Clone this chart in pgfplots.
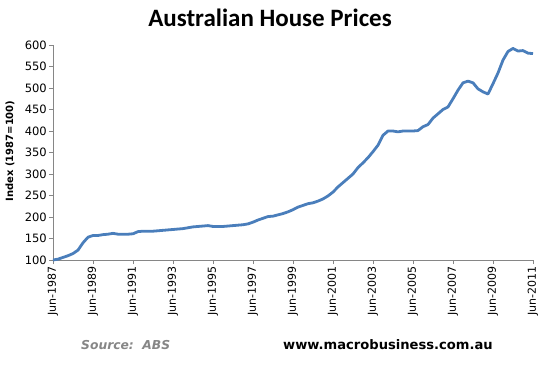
\documentclass[border=0pt]{standalone}
\usepackage{pgfplots}
\pgfplotsset{compat=1.18}
\usepackage{fontspec}
\setmainfont{DejaVu Sans}
\newfontfamily\titlefont{Carlito}
\definecolor{linecol}{HTML}{4A7EBB}
\definecolor{axcol}{HTML}{868686}
\begin{document}
\begin{tikzpicture}[x=1bp,y=1bp]
\path[use as bounding box] (0,0) rectangle (549,365);
\begin{axis}[
  at={(53bp,105bp)}, anchor=origin,
  scale only axis, width=480bp, height=215bp,
  xmin=1987.5, xmax=2011.5, ymin=100, ymax=600,
  axis x line*=bottom, axis y line*=left,
  axis line style={axcol, line width=0.9bp},
  tick style={axcol, line width=0.9bp},
  tick align=outside, major tick length=4bp,
  xtick={1987.5,1989.5,1991.5,1993.5,1995.5,1997.5,1999.5,2001.5,2003.5,2005.5,2007.5,2009.5,2011.5},
  xticklabels={Jun-1987,Jun-1989,Jun-1991,Jun-1993,Jun-1995,Jun-1997,Jun-1999,Jun-2001,Jun-2003,Jun-2005,Jun-2007,Jun-2009,Jun-2011},
  xticklabel style={rotate=90, anchor=east, font=\fontsize{11bp}{13bp}\selectfont, inner sep=2bp},
  ytick={100,150,...,600},
  yticklabel style={font=\fontsize{11.5bp}{13bp}\selectfont, inner sep=2bp},
  /pgf/number format/assume math mode=true,
  clip=false,
]
\addplot[linecol, line width=2.8bp, line join=round] coordinates {
(1987.50,100) (1987.75,102) (1988.00,106) (1988.25,110) (1988.50,115) (1988.75,123)
(1989.00,140) (1989.25,153) (1989.50,157) (1989.75,157) (1990.00,159) (1990.25,160)
(1990.50,162) (1990.75,160) (1991.00,160) (1991.25,160) (1991.50,161) (1991.75,166)
(1992.00,167) (1992.25,167) (1992.50,167) (1992.75,168) (1993.00,169) (1993.25,170)
(1993.50,171) (1993.75,172) (1994.00,173) (1994.25,175) (1994.50,177) (1994.75,178)
(1995.00,179) (1995.25,180) (1995.50,178) (1995.75,178) (1996.00,178) (1996.25,179)
(1996.50,180) (1996.75,181) (1997.00,182) (1997.25,184) (1997.50,188) (1997.75,193)
(1998.00,197) (1998.25,201) (1998.50,202) (1998.75,205) (1999.00,208) (1999.25,212)
(1999.50,217) (1999.75,223) (2000.00,227) (2000.25,231) (2000.50,233) (2000.75,237)
(2001.00,242) (2001.25,249) (2001.50,258) (2001.75,270) (2002.00,280) (2002.25,290)
(2002.50,300) (2002.75,315) (2003.00,326) (2003.25,338) (2003.50,352) (2003.75,367)
(2004.00,390) (2004.25,400) (2004.50,400) (2004.75,398) (2005.00,400) (2005.25,400)
(2005.50,400) (2005.75,401) (2006.00,410) (2006.25,415) (2006.50,430) (2006.75,440)
(2007.00,450) (2007.25,456) (2007.50,475) (2007.75,495) (2008.00,512) (2008.25,516)
(2008.50,512) (2008.75,498) (2009.00,491) (2009.25,486) (2009.50,510) (2009.75,535)
(2010.00,565) (2010.25,585) (2010.50,592) (2010.75,586) (2011.00,587) (2011.25,581)
(2011.50,580)
};
\end{axis}
\node[font=\titlefont\bfseries\fontsize{25bp}{28bp}\selectfont] at (270,347) {Australian House Prices};
\node[rotate=90, font=\bfseries\fontsize{10bp}{12bp}\selectfont] at (10,214) {Index (1987=100)};
\node[anchor=west, inner sep=0pt, text=axcol, font=\bfseries\itshape\fontsize{12.3bp}{14bp}\selectfont] at (81,20) {Source:\ \ ABS};
\node[anchor=west, inner sep=0pt, font=\bfseries\fontsize{13.1bp}{15bp}\selectfont] at (283,20) {www.macrobusiness.com.au};
\end{tikzpicture}
\end{document}
